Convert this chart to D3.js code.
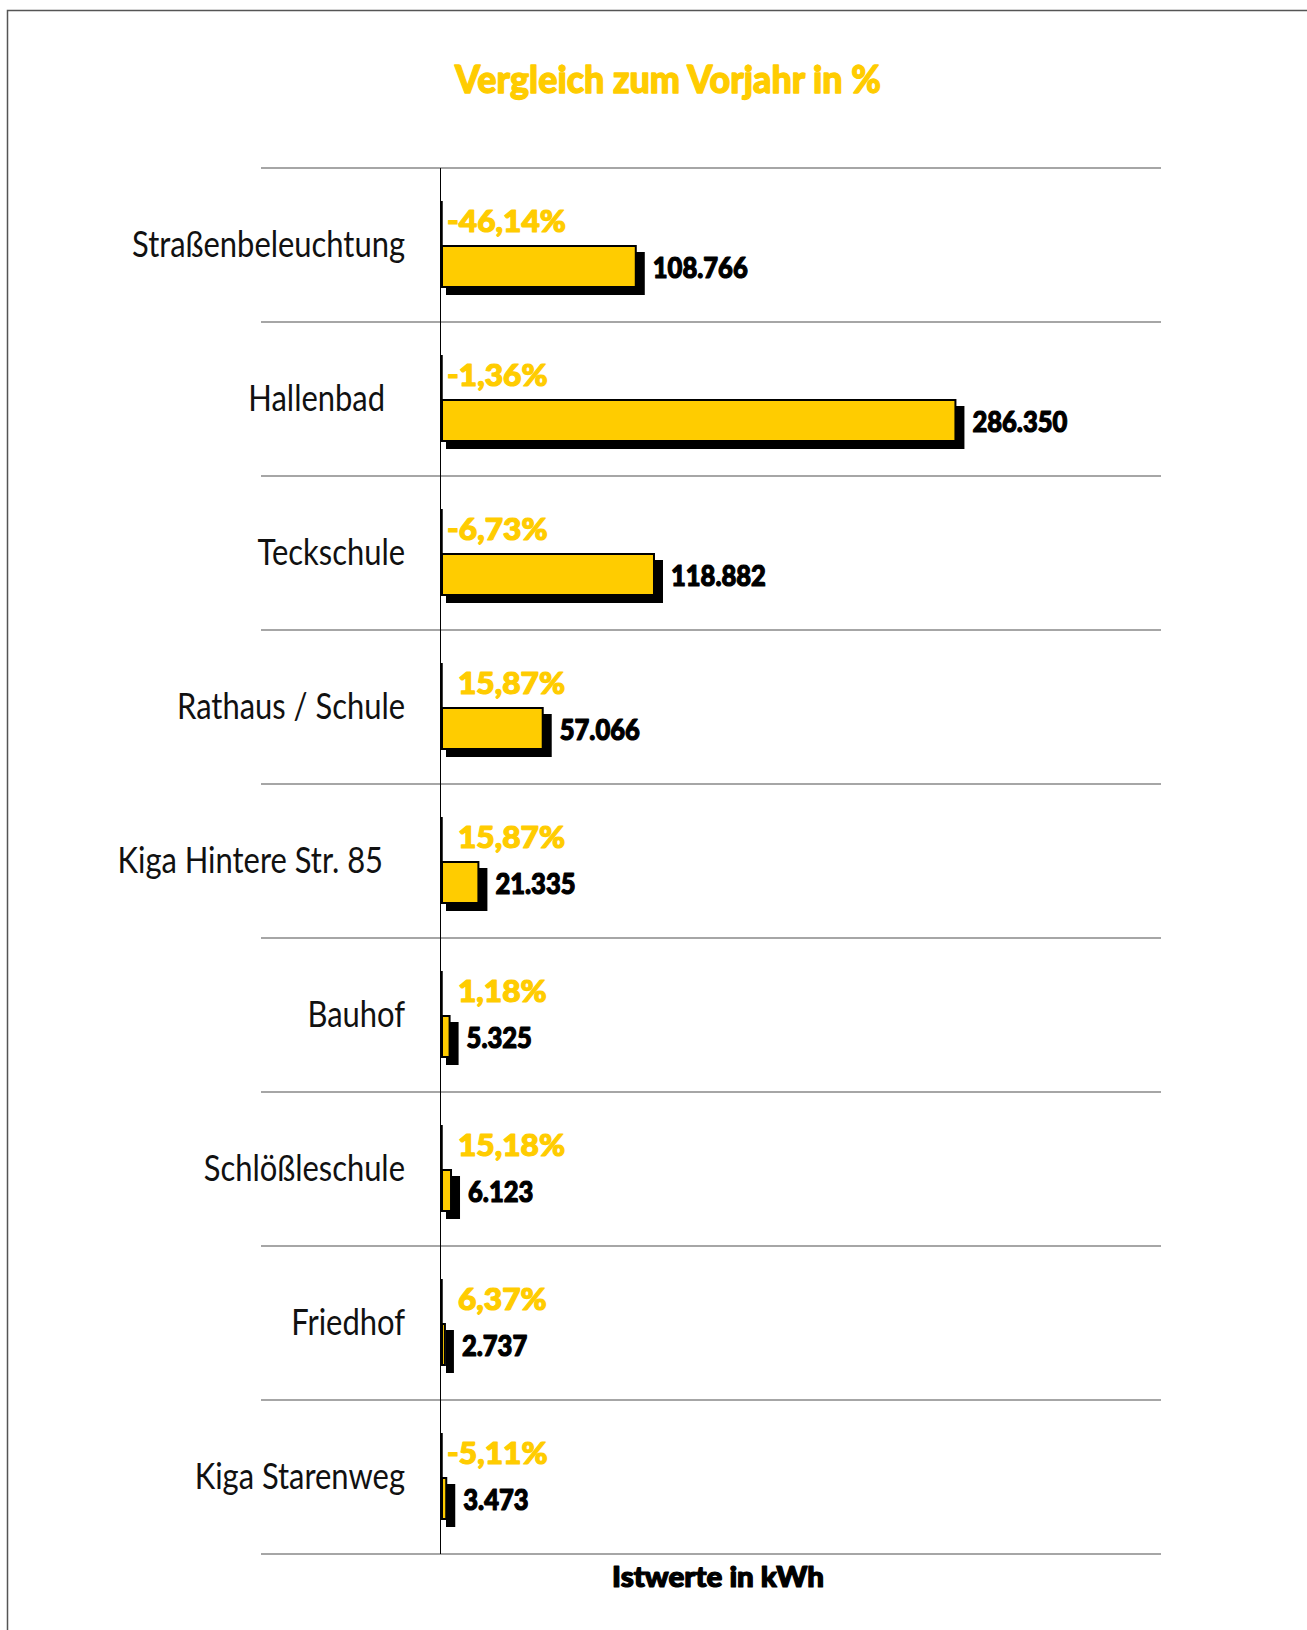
<!DOCTYPE html>
<html>
<head>
<meta charset="utf-8">
<script src="https://cdn.jsdelivr.net/npm/d3@7"></script>
<style>
  html, body { margin: 0; padding: 0; background: #fff; }
  svg { display: block; }
  text { font-family: Lato, "Open Sans", sans-serif; }
</style>
</head>
<body>
<svg id="chart" width="1307" height="1630"></svg>
<script>
// Daten
const categories = ["Straßenbeleuchtung", "Hallenbad", "Teckschule", "Rathaus / Schule",
  "Kiga Hintere Str. 85", "Bauhof", "Schlößleschule", "Friedhof", "Kiga Starenweg"];
const values = [108766, 286350, 118882, 57066, 21335, 5325, 6123, 2737, 3473];
const valueLabels = ["108.766", "286.350", "118.882", "57.066", "21.335", "5.325", "6.123", "2.737", "3.473"];
const changes = [-46.14, -1.36, -6.73, 15.87, 15.87, 1.18, 15.18, 6.37, -5.11];
const changeLabels = ["-46,14%", "-1,36%", "-6,73%", "15,87%", "15,87%", "1,18%", "15,18%", "6,37%", "-5,11%"];

const yellow = "#ffcc00";
const svg = d3.select("#chart");

// Skalen
const x = d3.scaleLinear().domain([0, 400000]).range([441, 1161]);
const y = d3.scaleBand().domain(categories).range([168, 1554]);
const rows = categories.map((c, i) => ({ name: c, v: values[i], vl: valueLabels[i], ch: changes[i], cl: changeLabels[i] }));

// Rahmen
svg.append("path").attr("d", "M7.5,1630 V10.5 H1307")
  .attr("fill", "none").attr("stroke", "#555").attr("stroke-width", 1.5);

// Text horizontal auf Zielbreite stauchen (Condensed-Schnitt nachbilden)
function condenseFactor(txt, size, weight, target) {
  const t = svg.append("text").attr("font-size", size).attr("font-weight", weight).text(txt);
  const w = t.node().getComputedTextLength();
  t.remove();
  return target / w;
}
const kCat = condenseFactor("Straßenbeleuchtung", 36, 400, 273);
const kVal = condenseFactor("108.766", 29, 900, 95);
const kPct = condenseFactor("-46,14%", 30, 900, 119);
const kTitle = condenseFactor("Vergleich zum Vorjahr in %", 38, 900, 426);
const kFoot = condenseFactor("Istwerte in kWh", 28, 900, 212);

// fette Schrift etwas kräftiger machen
function heavy(sel, color, w) {
  return sel.attr("font-weight", 900).attr("fill", color)
    .attr("stroke", color).attr("stroke-width", w).attr("stroke-linejoin", "round");
}

// Titel
heavy(svg.append("text")
  .attr("transform", `translate(668,93) scale(${kTitle},1)`)
  .attr("text-anchor", "middle").attr("font-size", 38), yellow, 1.3)
  .text("Vergleich zum Vorjahr in %");

// Trennlinien
const seps = categories.map(c => y(c)).concat([y.range()[1]]);
svg.append("g").selectAll("line").data(seps).join("line")
  .attr("x1", 261).attr("x2", 1161)
  .attr("y1", d => d).attr("y2", d => d)
  .attr("stroke", "#888").attr("stroke-width", 1.5);

// Achse
svg.append("line").attr("x1", 440.5).attr("x2", 440.5)
  .attr("y1", y.range()[0]).attr("y2", y.range()[1])
  .attr("stroke", "#000").attr("stroke-width", 1);

const labelShift = { "Hallenbad": -20, "Kiga Hintere Str. 85": -22 };

const g = svg.append("g").selectAll("g").data(rows).join("g")
  .attr("transform", d => `translate(0,${y(d.name)})`);

// Kategorienamen
g.append("text")
  .attr("transform", d => `translate(${405 + (labelShift[d.name] || 0)},89) scale(${kCat},1)`)
  .attr("text-anchor", "end").attr("font-size", 36).attr("fill", "#111")
  .text(d => d.name);

// Markierung an der Achse
g.append("line").attr("x1", 441.5).attr("x2", 441.5).attr("y1", 33).attr("y2", 120)
  .attr("stroke", "#000").attr("stroke-width", 2.5);

// Schatten
g.append("rect")
  .attr("x", x(0) + 5).attr("y", 84)
  .attr("width", d => x(d.v) - x(0) + 3).attr("height", 43)
  .attr("fill", "#000");

// Balken
g.append("rect")
  .attr("x", x(0) + 1).attr("y", 78)
  .attr("width", d => Math.max(x(d.v) - x(0) - 2, 1)).attr("height", 41)
  .attr("fill", yellow).attr("stroke", "#000").attr("stroke-width", 2);

// Prozentwerte
heavy(g.append("text")
  .attr("transform", d => `translate(${d.ch < 0 ? 447 : 458},64) scale(${kPct},1)`)
  .attr("font-size", 30), yellow, 1.2)
  .text(d => d.cl);

// Istwerte
heavy(g.append("text")
  .attr("transform", d => `translate(${x(d.v) + 16},110) scale(${kVal},1)`)
  .attr("font-size", 29), "#000", 1.2)
  .text(d => d.vl);

// Fußzeile
heavy(svg.append("text")
  .attr("transform", `translate(718,1587) scale(${kFoot},1)`)
  .attr("text-anchor", "middle").attr("font-size", 28), "#000", 1.2)
  .text("Istwerte in kWh");
</script>
</body>
</html>
